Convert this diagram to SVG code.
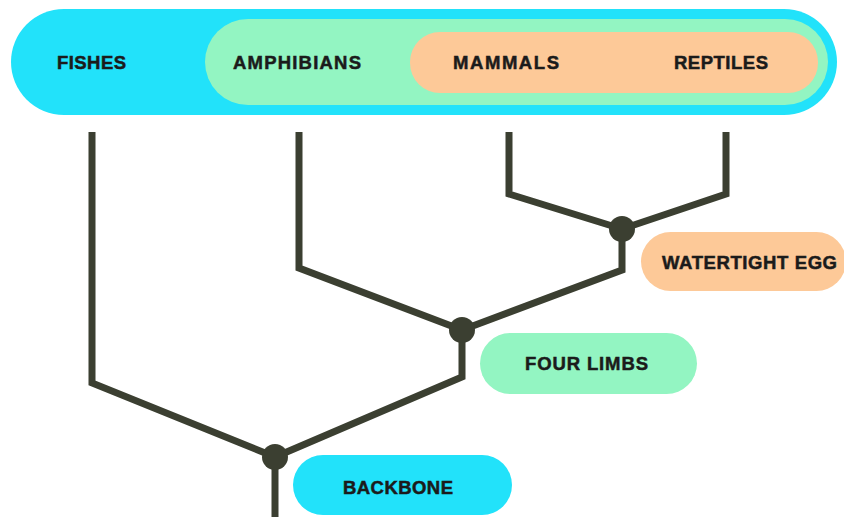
<svg xmlns="http://www.w3.org/2000/svg" width="844" height="517" viewBox="0 0 844 517">
<style>
.lbl{font-family:"Liberation Sans",Arial,sans-serif;font-weight:bold;font-size:18.5px;fill:#1b1b1b;stroke:#1b1b1b;stroke-width:0.5;text-anchor:middle}
.cyan{fill:#22e2fa}
.green{fill:#93f5c2}
.orange{fill:#fdc998}
.link{fill:none;stroke:#3b3f31;stroke-width:7;stroke-linejoin:miter}
.dot{fill:#3b3f31}
</style>
<rect width="844" height="517" fill="#ffffff"/>
<g id="vertebrates">
<rect class="cyan" x="11" y="9" width="826" height="106" rx="53"/>
<text class="lbl" x="91.5" y="69" textLength="69" lengthAdjust="spacing">FISHES</text>
</g>
<g id="tetrapods">
<rect class="green" x="205" y="19" width="623" height="86" rx="43"/>
<text class="lbl" x="297" y="69" textLength="128" lengthAdjust="spacing">AMPHIBIANS</text>
</g>
<g id="amniotes">
<rect class="orange" x="410" y="32" width="408" height="61" rx="30"/>
<text class="lbl" x="506" y="69" textLength="106" lengthAdjust="spacing">MAMMALS</text>
<text class="lbl" x="721" y="69" textLength="94" lengthAdjust="spacing">REPTILES</text>
</g>
<g id="connectors">
<polyline class="link" points="92,132 92,383 275,457"/>
<polyline class="link" points="299,132 299,268 462,330"/>
<polyline class="link" points="509,132 509,194 622,229"/>
<polyline class="link" points="726,132 726,194 622,229"/>
<polyline class="link" points="622,229 622,270 462,330"/>
<polyline class="link" points="462,330 462,377 275,457"/>
<polyline class="link" points="275,457 275,517"/>
<circle class="dot" cx="622" cy="229" r="13"/>
<circle class="dot" cx="462" cy="330" r="13"/>
<circle class="dot" cx="275" cy="457" r="13"/>
</g>
<g id="watertight-egg">
<rect class="orange" x="641" y="232" width="205" height="59" rx="29.5"/>
<text class="lbl" x="749.5" y="268.5" textLength="175" lengthAdjust="spacing">WATERTIGHT EGG</text>
</g>
<g id="four-limbs">
<rect class="green" x="480" y="333" width="217" height="61" rx="30.5"/>
<text class="lbl" x="586.5" y="369.5" textLength="123" lengthAdjust="spacing">FOUR LIMBS</text>
</g>
<g id="backbone">
<rect class="cyan" x="293" y="455" width="219" height="60" rx="30"/>
<text class="lbl" x="398" y="494" textLength="110" lengthAdjust="spacing">BACKBONE</text>
</g>
</svg>
